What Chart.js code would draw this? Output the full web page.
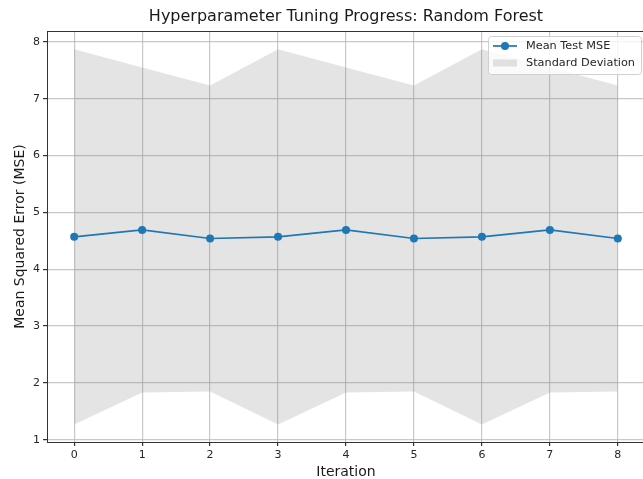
<!DOCTYPE html>
<html>
<head>
<meta charset="utf-8">
<title>Hyperparameter Tuning Progress: Random Forest</title>
<script src="https://cdn.jsdelivr.net/npm/chart.js@4.4.1/dist/chart.umd.min.js"></script>
<style>
  html, body { margin: 0; padding: 0; background: #ffffff; overflow: hidden; }
  #wrap { width: 692px; height: 479px; }
</style>
</head>
<body>
<div id="wrap"><canvas id="chart" width="692" height="479"></canvas></div>
<script>
// Search iterations and cross-validation results
const iterations = [0, 1, 2, 3, 4, 5, 6, 7, 8];
const meanTestMSE = [4.57, 4.69, 4.54, 4.57, 4.69, 4.54, 4.57, 4.69, 4.54];
const stdTestMSE  = [3.30, 2.86, 2.69, 3.30, 2.86, 2.69, 3.30, 2.86, 2.69];
const yTicks = [1, 2, 3, 4, 5, 6, 7, 8];
const xTicks = [0, 1, 2, 3, 4, 5, 6, 7, 8];

const upperBand = iterations.map((it, i) => ({ x: it, y: meanTestMSE[i] + stdTestMSE[i] }));
const lowerBand = iterations.map((it, i) => ({ x: it, y: meanTestMSE[i] - stdTestMSE[i] }));
const meanPoints = iterations.map((it, i) => ({ x: it, y: meanTestMSE[i] }));

const LINE_BLUE = '#1f77b4';
const BAND_FILL = 'rgba(128,128,128,0.21)';
const GRID = 'rgba(176,176,176,0.7)';
const FONT = "'DejaVu Sans', sans-serif";

// Frame around the plotting area
const frame = {
  id: 'frame',
  afterDatasetsDraw(chart) {
    const { ctx, chartArea: a } = chart;
    ctx.save();
    ctx.strokeStyle = '#333333';
    ctx.lineWidth = 1;
    ctx.strokeRect(a.left + 0.5, a.top + 0.5, a.right - a.left, a.bottom - a.top);
    ctx.restore();
  }
};

// Legend box in the upper right corner of the plot
const cornerLegend = {
  id: 'cornerLegend',
  afterDraw(chart) {
    const { ctx } = chart;
    const x = 488, y = 36, w = 153, h = 38;
    ctx.save();
    ctx.fillStyle = 'rgba(255,255,255,0.8)';
    ctx.strokeStyle = '#d0d0d0';
    ctx.lineWidth = 1;
    ctx.beginPath();
    ctx.roundRect(x + 0.5, y + 0.5, w, h, 3);
    ctx.fill();
    ctx.stroke();

    const ds = chart.data.datasets;
    // line + marker sample
    const ly = y + 10;
    ctx.strokeStyle = ds[0].borderColor;
    ctx.lineWidth = 1.7;
    ctx.beginPath();
    ctx.moveTo(x + 5, ly);
    ctx.lineTo(x + 29, ly);
    ctx.stroke();
    ctx.fillStyle = ds[0].pointBackgroundColor;
    ctx.beginPath();
    ctx.arc(x + 17, ly, 4, 0, Math.PI * 2);
    ctx.fill();
    // band sample
    const py = y + 27;
    ctx.fillStyle = ds[1].backgroundColor;
    ctx.fillRect(x + 5, py - 3.5, 24, 7);

    ctx.fillStyle = '#262626';
    ctx.font = '11.3px ' + FONT;
    ctx.textBaseline = 'middle';
    ctx.textAlign = 'left';
    ctx.fillText(ds[0].label, x + 38, ly + 0.5);
    ctx.fillText(ds[1].label, x + 38, py + 0.5);
    ctx.restore();
  }
};

new Chart(document.getElementById('chart'), {
  type: 'line',
  data: {
    datasets: [
      {
        label: 'Mean Test MSE',
        data: meanPoints,
        borderColor: LINE_BLUE,
        backgroundColor: LINE_BLUE,
        pointBackgroundColor: LINE_BLUE,
        pointBorderColor: LINE_BLUE,
        pointRadius: 4,
        pointBorderWidth: 0,
        borderWidth: 1.7,
        tension: 0,
        fill: false
      },
      {
        label: 'Standard Deviation',
        data: upperBand,
        borderWidth: 0,
        borderColor: 'rgba(0,0,0,0)',
        backgroundColor: BAND_FILL,
        pointRadius: 0,
        tension: 0,
        fill: '+1'
      },
      {
        label: 'lower',
        data: lowerBand,
        borderWidth: 0,
        borderColor: 'rgba(0,0,0,0)',
        backgroundColor: BAND_FILL,
        pointRadius: 0,
        tension: 0,
        fill: false
      }
    ]
  },
  options: {
    responsive: false,
    animation: false,
    layout: { padding: { left: 0, right: 47, top: 0, bottom: 0 } },
    plugins: {
      legend: { display: false },
      tooltip: { enabled: false },
      title: {
        display: true,
        fullSize: false,
        text: 'Hyperparameter Tuning Progress: Random Forest',
        color: '#1a1a1a',
        font: { family: FONT, size: 16, weight: 'normal', lineHeight: 1.2 },
        padding: { top: 7.5, bottom: 4.3 }
      }
    },
    scales: {
      x: {
        type: 'linear',
        min: -0.4,
        max: 8.4,
        afterBuildTicks(scale) { scale.ticks = xTicks.map(v => ({ value: v })); },
        afterFit(scale) { scale.height = 37; },
        grid: {
          color: GRID,
          lineWidth: 1.2,
          drawTicks: true,
          tickLength: 4,
          tickColor: '#333333'
        },
        border: { display: true, color: '#333333', width: 1 },
        ticks: {
          color: '#262626',
          font: { family: FONT, size: 11 },
          padding: 3,
          maxRotation: 0,
          callback: v => String(v)
        },
        title: {
          display: true,
          text: 'Iteration',
          color: '#1a1a1a',
          font: { family: FONT, size: 14, lineHeight: 1.0 },
          padding: { top: 0, bottom: 0 }
        }
      },
      y: {
        type: 'linear',
        min: 0.96,
        max: 8.19,
        afterBuildTicks(scale) { scale.ticks = yTicks.map(v => ({ value: v })); },
        afterFit(scale) { scale.width = 47; },
        grid: {
          color: GRID,
          lineWidth: 1.2,
          drawTicks: true,
          tickLength: 4,
          tickColor: '#333333'
        },
        border: { display: true, color: '#333333', width: 1 },
        ticks: {
          color: '#262626',
          font: { family: FONT, size: 11 },
          padding: 3,
          callback: v => String(v)
        },
        title: {
          display: true,
          text: 'Mean Squared Error (MSE)',
          color: '#1a1a1a',
          font: { family: FONT, size: 14, lineHeight: 1.2 },
          padding: { top: 11.5, bottom: 0 }
        }
      }
    }
  },
  plugins: [frame, cornerLegend]
});
</script>
</body>
</html>
